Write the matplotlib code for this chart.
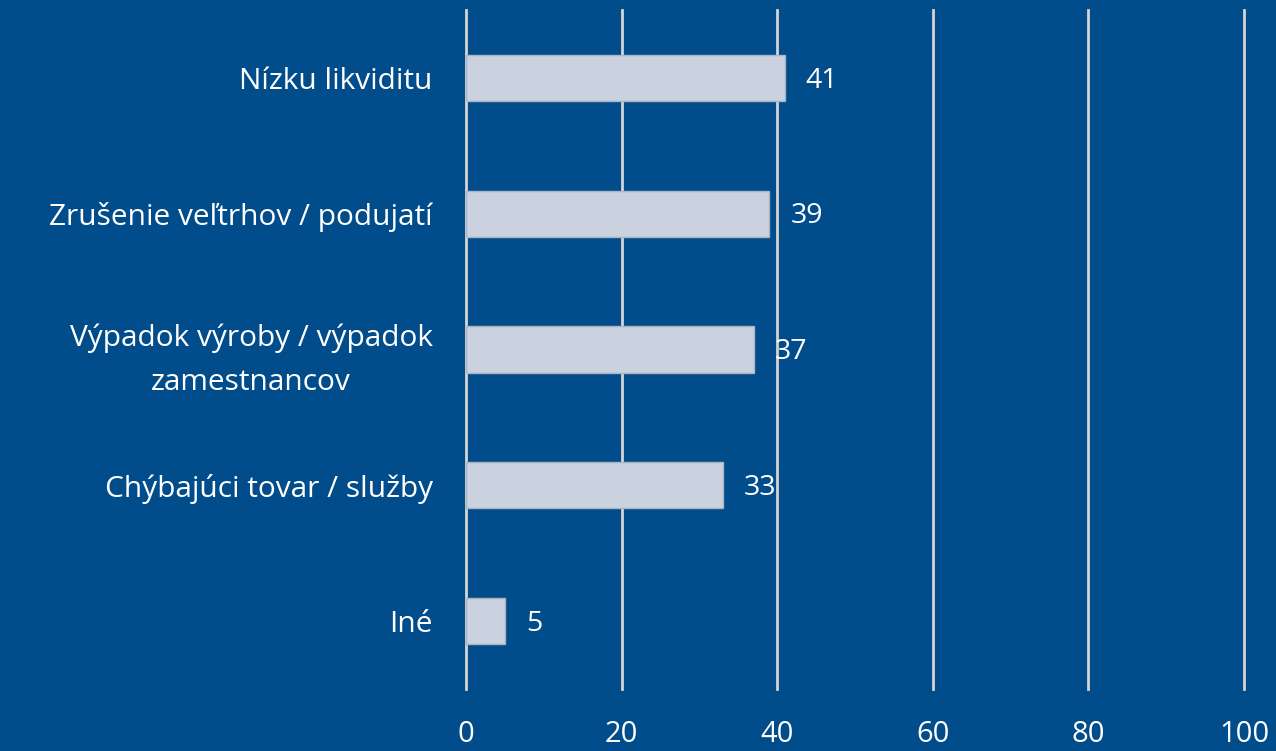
import matplotlib
matplotlib.use("Agg")
import matplotlib.pyplot as plt

categories = ["Nízku likviditu", "Zrušenie veľtrhov / podujatí",
              "Výpadok výroby / výpadok\nzamestnancov", "Chýbajúci tovar / služby", "Iné"]
values = [41, 39, 37, 33, 5]
xticks = [0, 20, 40, 60, 80, 100]

bg = "#014c8a"
plt.rcParams['font.family'] = ['Open Sans', 'DejaVu Sans']

fig = plt.figure(figsize=(12.76, 7.51), dpi=100, facecolor=bg)
ax = fig.add_axes([466/1276, 1 - 689/751, (1244-466)/1276, (689-10)/751])
ax.set_facecolor(bg)

y = list(range(len(categories)))
ax.barh(y, values, height=0.34, color="#c9d2de", edgecolor="#a9b4c4", linewidth=1, zorder=3)
ax.set_ylim(len(categories) - 0.5, -0.5)
ax.set_xlim(0, 100)
ax.set_xticks(xticks)
ax.set_xticklabels([str(t) for t in xticks])
ax.set_yticks(y)
ax.set_yticklabels(categories, multialignment="center", linespacing=1.65)
ax.grid(axis="x", color="#d4d4d4", linewidth=2, zorder=1)
for gl in ax.get_xgridlines():
    gl.set_clip_on(False)
for s in ax.spines.values():
    s.set_visible(False)
ax.tick_params(axis="x", length=0, pad=22, labelsize=21, labelcolor="white")
ax.tick_params(axis="y", length=0, pad=24, labelsize=21.5, labelcolor="white")

for yi, v in zip(y, values):
    ax.annotate(str(v), (v, yi), xytext=(15, -2), textcoords="offset points",
                ha="left", va="center", color="white", fontsize=20.5, zorder=4)

fig.savefig("out.png", dpi=100, facecolor=bg)
